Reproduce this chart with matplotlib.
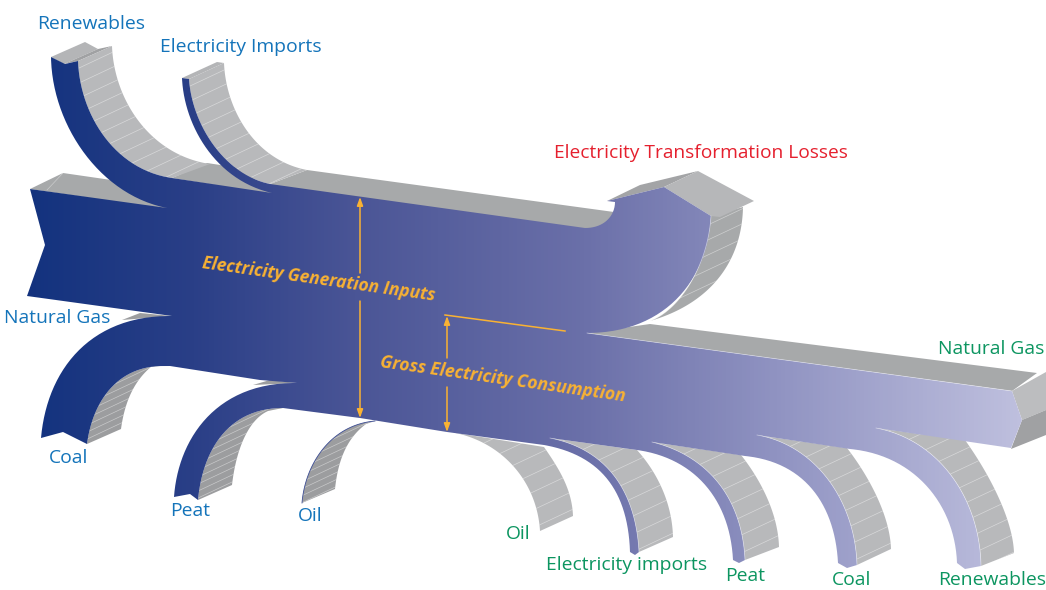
import numpy as np
import matplotlib
matplotlib.use("Agg")
import matplotlib.pyplot as plt
from matplotlib.colors import LinearSegmentedColormap
from matplotlib.patches import Polygon, PathPatch
from matplotlib.path import Path

# labels
input_labels = ["Renewables", "Electricity Imports", "Natural Gas", "Coal", "Peat", "Oil"]
output_labels = ["Natural Gas", "Oil", "Electricity imports", "Peat", "Coal", "Renewables"]
loss_label = "Electricity Transformation Losses"
generation_label = "Electricity Generation Inputs"
consumption_label = "Gross Electricity Consumption"

# the drawing has no scale, so the shapes are traced in picture pixels
input_pos = [(91, 24), (241, 47), (57, 318), (69, 458), (190, 511), (310, 516)]
output_pos = [(991, 349), (518, 534), (627, 565), (745, 576), (852, 580), (992, 580)]

BLUE = "#1474ba"
GREEN = "#0c9560"
RED = "#e5202e"
ORANGE = "#f9b233"
WALL_LIGHT = "#b8b9bb"
WALL_DARK = "#9c9d9f"
WALL_MID = "#a7a9aa"


def bez(p0, c1, c2, p3, n=60):
    t = np.linspace(0, 1, n)[:, None]
    p0, c1, c2, p3 = [np.array(p, float) for p in (p0, c1, c2, p3)]
    return (1 - t) ** 3 * p0 + 3 * (1 - t) ** 2 * t * c1 + 3 * (1 - t) * t ** 2 * c2 + t ** 3 * p3


# incoming bands
ren_outer = bez((51, 57), (52, 125), (100, 195), (167, 208))
ren_inner = bez((78, 61), (80, 115), (115, 170), (172, 178))
ren_wall = bez((112, 46), (114, 100), (150, 155), (210, 164))
imp_outer = bez((182, 78), (184, 125), (215, 180), (272, 193))
imp_inner = bez((189, 79), (192, 125), (225, 175), (270, 184))
imp_wall = bez((224, 63), (226, 110), (255, 160), (307, 170))
coal_outer = bez((41, 438), (47, 370), (90, 315), (172, 316))
coal_inner = bez((87, 444), (92, 405), (115, 365), (165, 366))
coal_wall = bez((121, 429), (125, 400), (135, 380), (152, 366))
peat_outer = bez((174, 497), (178, 440), (215, 382), (297, 383))
peat_inner = bez((198, 500), (202, 455), (225, 408), (283, 408))
peat_wall = bez((232, 485), (236, 450), (248, 420), (268, 411))
oil_left = bez((302, 503), (305, 465), (330, 425), (375, 421))
oil_right = bez((335, 489), (338, 460), (347, 438), (366, 424))

# outgoing bands
oil2_left = bez((450, 432), (500, 440), (537, 480), (540, 531))
oil2_right = bez((544, 447), (560, 470), (572, 490), (573, 516))
imp2_lower = bez((544, 445), (600, 455), (628, 490), (630, 552))
imp2_upper = bez((550, 438), (610, 450), (636, 495), (639, 552))
imp2_wall = bez((637, 450), (655, 470), (672, 500), (673, 537))
peat2_lower = bez((637, 450), (695, 458), (730, 500), (733, 560))
peat2_upper = bez((652, 442), (705, 455), (742, 495), (745, 560))
peat2_wall = bez((741, 455), (757, 475), (778, 510), (779, 547))
coal2_lower = bez((745, 456), (805, 462), (835, 505), (838, 563))
coal2_upper = bez((757, 435), (815, 445), (855, 500), (857, 565))
coal2_wall = bez((847, 448), (868, 475), (890, 515), (891, 549))
ren2_lower = bez((850, 449), (915, 455), (955, 505), (957, 563))
ren2_upper = bez((876, 428), (940, 440), (980, 500), (981, 566))
ren2_wall = bez((965, 440), (990, 475), (1013, 520), (1014, 553))

# losses arrow
loss_notch = bez((585, 228), (605, 228), (615, 215), (615, 202))
loss_edge = bez((711, 216), (708, 280), (665, 333), (587, 333))
loss_left = bez((711, 216), (708, 265), (680, 310), (650, 321))
loss_wall = bez((743, 207), (742, 260), (712, 303), (650, 321))

fig = plt.figure(figsize=(10.46, 5.9), dpi=100)
ax = fig.add_axes([0, 0, 1, 1])
ax.set_xlim(0, 1046)
ax.set_ylim(590, 0)
ax.axis("off")

SEAM_SLOPE = 0.47


def wall(left, right, color, gap=14):
    poly = np.vstack([left, right[::-1]])
    patch = Polygon(poly, closed=True, fc=color, ec="none", zorder=2)
    ax.add_patch(patch)
    # pale seams, all parallel and clipped to the ribbon
    c = poly[:, 1] + SEAM_SLOPE * poly[:, 0]
    for c0 in np.arange(c.min() + gap / 2, c.max(), gap):
        xs = np.array([poly[:, 0].min(), poly[:, 0].max()])
        line, = ax.plot(xs, c0 - SEAM_SLOPE * xs, color="white", lw=0.5, alpha=0.45, zorder=2.1)
        line.set_clip_path(patch)


def flat(points, color, z=2):
    ax.add_patch(Polygon(points, closed=True, fc=color, ec="none", zorder=z))


# top faces of the main flow
flat([(30, 189), (63, 173), (125, 182), (170, 210)], WALL_MID)
flat([(172, 178), (207, 163), (240, 168), (275, 195)], WALL_MID)
flat([(265, 186), (307, 170), (614, 212), (614, 232), (585, 232)], WALL_MID)
flat([(587, 333), (650, 324), (1037, 373), (1012, 391)], WALL_MID)
ax.plot([742, 722], [361, 367], color="white", lw=0.5, alpha=0.5, zorder=2.1)
ax.plot([63, 47], [173, 190], color="white", lw=0.5, alpha=0.4, zorder=2.1)

# incoming walls
flat([(51, 57), (85, 42), (98, 49), (64, 64)], "#b4b5b7")
flat([(64, 64), (98, 49), (112, 46), (78, 61)], "#a0a1a3")
flat([(182, 78), (217, 62), (224, 63), (189, 79)], "#b4b5b7")
wall(ren_inner, ren_wall, WALL_LIGHT, 15)
wall(imp_inner, imp_wall, WALL_LIGHT, 15)
wall(coal_inner, coal_wall, WALL_DARK, 7)
wall(peat_inner, peat_wall, WALL_DARK, 7)
wall(oil_left, oil_right, WALL_DARK, 7)
flat([(122, 320), (140, 313), (172, 316)], WALL_DARK)
flat([(253, 385), (270, 380), (297, 383)], WALL_DARK)

# outgoing walls
wall(oil2_left, oil2_right, WALL_LIGHT, 18)
wall(imp2_upper, imp2_wall, WALL_LIGHT, 18)
wall(peat2_upper, peat2_wall, WALL_LIGHT, 18)
wall(coal2_upper, coal2_wall, WALL_LIGHT, 18)
wall(ren2_upper, ren2_wall, WALL_LIGHT, 18)

# losses arrow cap and wall
wall(loss_left, loss_wall, WALL_MID, 15)
flat([(607, 201), (640, 185), (698, 171), (664, 187)], "#a3a4a6")
flat([(664, 187), (698, 171), (754, 201), (720, 217), (711, 216)], "#b6b7b9")

# right end cap
flat([(1012, 391), (1046, 372), (1046, 410), (1022, 420)], "#bcbdbf")
flat([(1022, 420), (1046, 410), (1046, 435), (1011, 449)], "#a0a1a3")

# one outline for the whole blue flow, clockwise from the left notch
outline = np.vstack([
    [(30, 189)],
    ren_outer[::-1],
    [(65, 64)],
    ren_inner,
    imp_outer[::-1],
    imp_inner,
    [(585, 228)],
    loss_notch,
    [(607, 201), (664, 187)],
    loss_edge,
    [(1012, 391), (1022, 420), (1011, 448)],
    ren2_upper,
    [(965, 569)],
    ren2_lower[::-1],
    coal2_upper,
    [(847, 568)],
    coal2_lower[::-1],
    peat2_upper,
    [(739, 563)],
    peat2_lower[::-1],
    imp2_upper,
    [(635, 555)],
    imp2_lower[::-1],
    [(447, 432), (360, 418)],
    peat_inner[::-1],
    [(190, 494)],
    peat_outer,
    [(260, 380), (170, 366)],
    coal_inner[::-1],
    [(63, 432)],
    coal_outer,
    [(27, 296), (45, 245)],
])

stops = [(0.0, "#12327e"), (0.17, "#2a3f87"), (0.33, "#4a5596"), (0.56, "#6b70a9"),
         (0.76, "#9295c3"), (1.0, "#c0c1df")]
cmap = LinearSegmentedColormap.from_list("flow", stops)
grad = np.linspace(0, 1, 1046).reshape(1, -1)
im = ax.imshow(grad, cmap=cmap, extent=[20, 1030, 590, 0], aspect="auto", zorder=3)
clip = PathPatch(Path(outline, closed=False), transform=ax.transData, fc="none", ec="none")
ax.add_patch(clip)
im.set_clip_path(clip)
ax.set_xlim(0, 1046)
ax.set_ylim(590, 0)

# thin edges
ax.plot(oil_left[:, 0], oil_left[:, 1], color="#3b4c94", lw=0.6, zorder=3)
for edge in (imp2_upper, peat2_upper, coal2_upper, ren2_upper, loss_left):
    ax.plot(edge[:, 0], edge[:, 1], color="white", lw=0.5, alpha=0.5, zorder=3.1)
ax.plot([587, 1012], [333, 391], color="white", lw=0.5, alpha=0.5, zorder=3.1)

# texts
FONT = "Open Sans"
for s, (x, y) in zip(input_labels, input_pos):
    ax.text(x, y, s, color=BLUE, fontsize=13.9, family=FONT, ha="center", va="center", zorder=5)
for s, (x, y) in zip(output_labels, output_pos):
    ax.text(x, y, s, color=GREEN, fontsize=13.9, family=FONT, ha="center", va="center", zorder=5)
ax.text(701, 153, loss_label, color=RED, fontsize=13.8, family=FONT, ha="center", va="center", zorder=5)
ax.text(319, 279, generation_label, color=ORANGE, fontsize=12.5, family=FONT, weight="bold",
        style="italic", rotation=-8, rotation_mode="anchor", ha="center", va="center", zorder=5)
ax.text(503, 379, consumption_label, color=ORANGE, fontsize=12.6, family=FONT, weight="bold",
        style="italic", rotation=-8, rotation_mode="anchor", ha="center", va="center", zorder=5)

# orange dimension arrows
arrow = dict(arrowstyle="-|>,head_width=0.18,head_length=0.5", color=ORANGE, lw=1.1,
             shrinkA=0, shrinkB=0)
for start, end in [((360, 273), (360, 197)), ((360, 301), (360, 418)),
                   ((447, 358), (447, 316)), ((447, 387), (447, 432))]:
    ax.annotate("", xy=end, xytext=start, arrowprops=arrow, zorder=5)
ax.plot([445, 565], [315, 331], color=ORANGE, lw=1.1, zorder=5)

fig.savefig("out.png", dpi=100)
